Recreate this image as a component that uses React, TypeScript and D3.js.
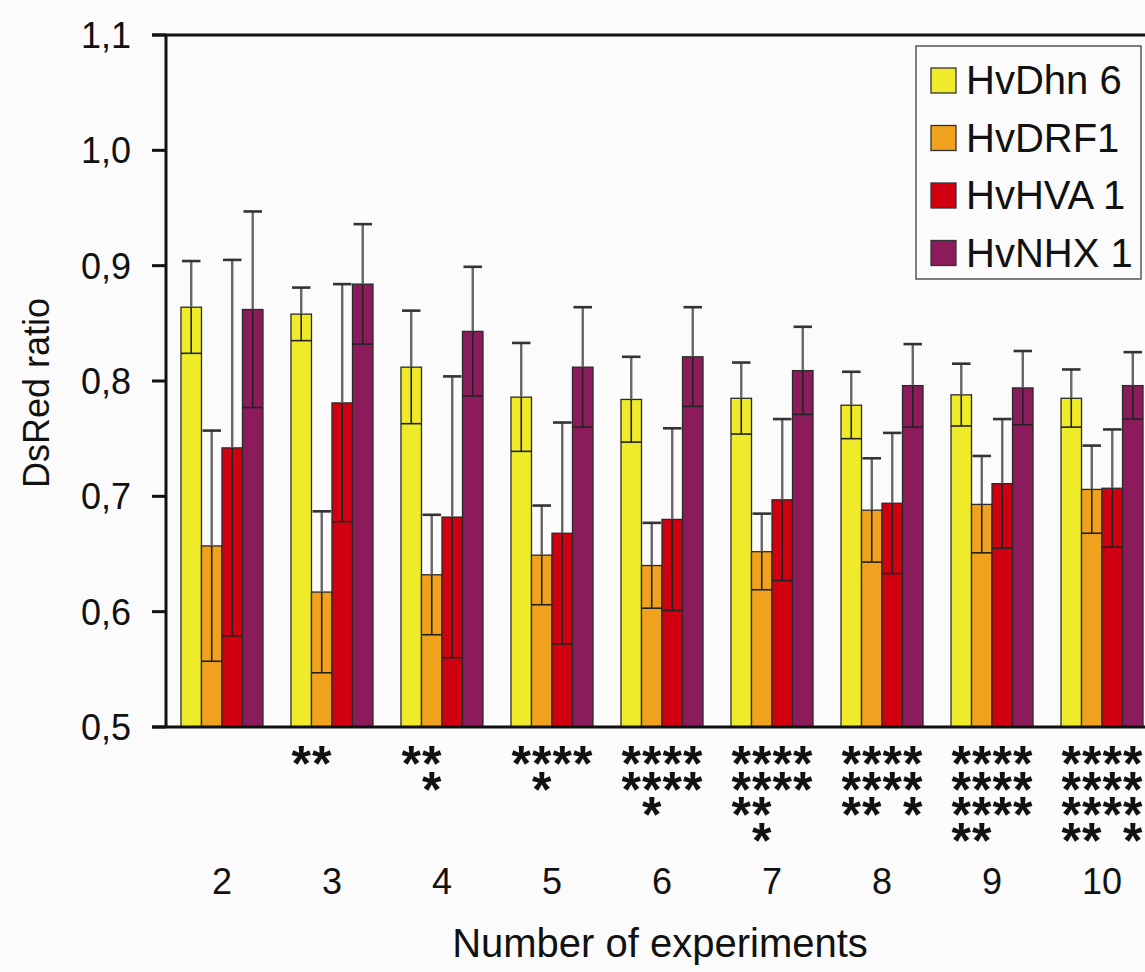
import React from "react";
import * as d3 from "d3";

const groups = ["2", "3", "4", "5", "6", "7", "8", "9", "10"];
const seriesNames = ["HvDhn 6", "HvDRF1", "HvHVA 1", "HvNHX 1"];
const seriesColors = ["#efeb2a", "#f0a11d", "#d10010", "#8b1b5b"];

const dhn6 = [0.864, 0.858, 0.812, 0.786, 0.784, 0.785, 0.779, 0.788, 0.785];
const dhn6Err = [0.04, 0.023, 0.049, 0.047, 0.037, 0.031, 0.029, 0.027, 0.025];
const drf1 = [0.657, 0.617, 0.632, 0.649, 0.64, 0.652, 0.688, 0.693, 0.706];
const drf1Err = [0.1, 0.07, 0.052, 0.043, 0.037, 0.033, 0.045, 0.042, 0.038];
const hva1 = [0.742, 0.781, 0.682, 0.668, 0.68, 0.697, 0.694, 0.711, 0.707];
const hva1Err = [0.163, 0.103, 0.122, 0.096, 0.079, 0.07, 0.061, 0.056, 0.051];
const nhx1 = [0.862, 0.884, 0.843, 0.812, 0.821, 0.809, 0.796, 0.794, 0.796];
const nhx1Err = [0.085, 0.052, 0.056, 0.052, 0.043, 0.038, 0.036, 0.032, 0.029];

// significance asterisks: per group, rows of bar indices that carry a star
const stars: number[][][] = [
  [],
  [[0, 1]],
  [[0, 1], [1]],
  [[0, 1, 2, 3], [1]],
  [[0, 1, 2, 3], [0, 1, 2, 3], [1]],
  [[0, 1, 2, 3], [0, 1, 2, 3], [0, 1], [1]],
  [[0, 1, 2, 3], [0, 1, 2, 3], [0, 1, 3]],
  [[0, 1, 2, 3], [0, 1, 2, 3], [0, 1, 2, 3], [0, 1]],
  [[0, 1, 2, 3], [0, 1, 2, 3], [0, 1, 2, 3], [0, 1, 3]],
];

const yTicks = [0.5, 0.6, 0.7, 0.8, 0.9, 1.0, 1.1];

const means = [dhn6, drf1, hva1, nhx1];
const errs = [dhn6Err, drf1Err, hva1Err, nhx1Err];

const W = 1145;
const H = 972;
const axisX = 166;
const y0px = 727;
const y1px = 35;
const FONT = "'Liberation Sans', Arial, sans-serif";

export default function App() {
  const y = d3.scaleLinear().domain([0.5, 1.1]).range([y0px, y1px]);
  const x0 = d3
    .scaleBand<string>()
    .domain(groups)
    .range([axisX + 1, axisX + 1 + groups.length * 110])
    .paddingInner(0.2545)
    .paddingOuter(0.127);
  const x1 = d3
    .scaleBand<number>()
    .domain(seriesNames.map((_, i) => i))
    .range([0, x0.bandwidth()])
    .padding(0);
  const bw = x1.bandwidth();
  const fmt = (v: number) => d3.format(".1f")(v).replace(".", ",");

  return (
    <svg
      width={W}
      height={H}
      style={{ position: "absolute", left: 0, top: 0, background: "#fbfbfb" }}
      fontFamily={FONT}
    >
      {/* bars */}
      {groups.map((g, gi) => {
        const starPts = stars[gi].flatMap((row, ri) =>
          row.map((si) => ({ x: x1(si)! + bw / 2, y: 752 + ri * 25.5 + 29 }))
        );
        return (
          <g key={g} transform={`translate(${x0(g)},0)`}>
            {means.map((m, si) => {
              const bx = x1(si)!;
              const v = m[gi];
              const e = errs[si][gi];
              const cx = bx + bw / 2;
              return (
                <g key={si}>
                  <rect
                    x={bx}
                    y={y(v)}
                    width={bw}
                    height={y0px - y(v)}
                    fill={seriesColors[si]}
                    stroke="#2a2a2a"
                    strokeWidth={1.3}
                  />
                  {/* upper whisker */}
                  <line x1={cx} x2={cx} y1={y(v)} y2={y(v + e)} stroke="#666" strokeWidth={2.4} />
                  <line x1={bx + 1} x2={bx + bw - 1} y1={y(v + e)} y2={y(v + e)} stroke="#333" strokeWidth={2.6} />
                  {/* lower whisker */}
                  <line x1={cx} x2={cx} y1={y(v)} y2={y(v - e)} stroke="#222" strokeWidth={1.6} />
                  <line x1={bx} x2={bx + bw} y1={y(v - e)} y2={y(v - e)} stroke="#222" strokeWidth={1.6} />
                </g>
              );
            })}
            {/* asterisks: one text per group, each glyph positioned */}
            {starPts.length > 0 && (
              <text
                x={starPts.map((p) => p.x).join(" ")}
                y={starPts.map((p) => p.y).join(" ")}
                textAnchor="middle"
                fontSize={50}
                fontWeight="bold"
                fill="#111"
              >
                {"*".repeat(starPts.length)}
              </text>
            )}
            <text
              x={x0.bandwidth() / 2}
              y={894}
              textAnchor="middle"
              fontSize={36}
              fill="#111"
            >
              {g}
            </text>
          </g>
        );
      })}

      {/* axes frame */}
      <line x1={152} x2={W} y1={y1px} y2={y1px} stroke="#111" strokeWidth={3} />
      <line x1={152} x2={W} y1={y0px} y2={y0px} stroke="#111" strokeWidth={3} />
      <line x1={axisX} x2={axisX} y1={y1px} y2={y0px} stroke="#111" strokeWidth={3} />
      {yTicks.map((t) => (
        <g key={t}>
          <line x1={152} x2={axisX} y1={y(t)} y2={y(t)} stroke="#111" strokeWidth={3} />
          <text
            x={131}
            y={y(t)}
            dy="0.36em"
            textAnchor="end"
            fontSize={36}
            fill="#111"
          >
            {fmt(t)}
          </text>
        </g>
      ))}

      {/* axis titles */}
      <text
        transform={`translate(49,393) rotate(-90)`}
        textAnchor="middle"
        fontSize={36}
        fill="#111"
      >
        DsRed ratio
      </text>
      <text x={660} y={957} textAnchor="middle" fontSize={40} fill="#111">
        Number of experiments
      </text>

      {/* legend */}
      <rect x={916} y={46} width={225} height={233} fill="#fbfbfb" stroke="#555" strokeWidth={1.5} />
      {seriesNames.map((s, i) => {
        const cy = 80 + i * 57.5;
        return (
          <g key={s}>
            <rect x={931} y={cy - 12} width={25} height={25} fill={seriesColors[i]} stroke="#333" strokeWidth={1.3} />
            <text x={966} y={cy} dy="0.36em" fontSize={40} fill="#111">
              {s}
            </text>
          </g>
        );
      })}
    </svg>
  );
}
